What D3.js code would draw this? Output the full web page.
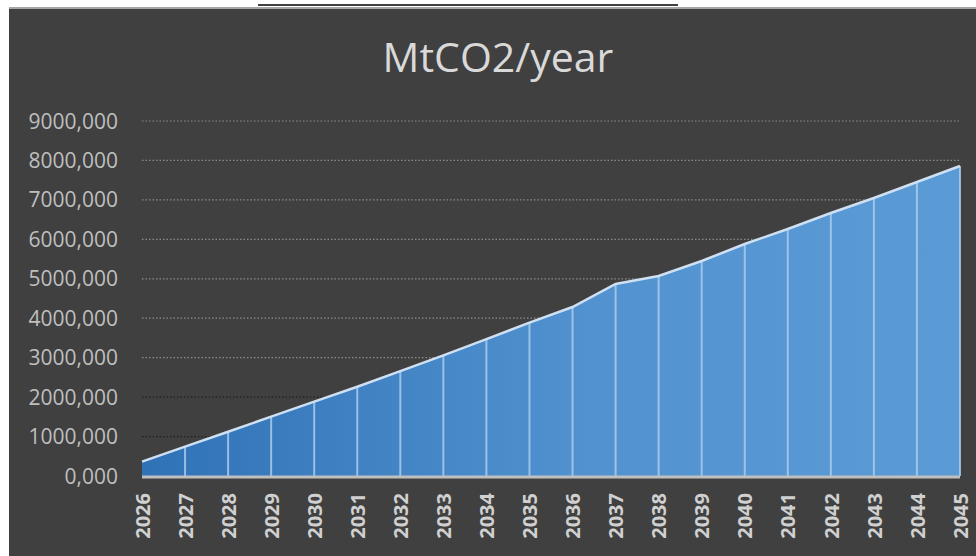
<!DOCTYPE html>
<html>
<head>
<meta charset="utf-8">
<script src="https://cdn.jsdelivr.net/npm/d3@7/dist/d3.min.js"></script>
<style>
  html, body { margin:0; padding:0; background:#fff; }
  #chart { width:976px; height:556px; }
</style>
</head>
<body>
<div id="chart"></div>
<script>
// data
const years = [2026,2027,2028,2029,2030,2031,2032,2033,2034,2035,2036,2037,2038,2039,2040,2041,2042,2043,2044,2045];
const emissions = [363,743,1123,1504,1884,2264,2660,3060,3470,3890,4285,4868,5071,5451,5882,6263,6668,7049,7454,7860];
const yTicks = [0,1000,2000,3000,4000,5000,6000,7000,8000,9000];
const title = 'MtCO2/year';

(function(){
  const width = 976, height = 556;
  const svg = d3.select('#chart').append('svg')
    .attr('width', width).attr('height', height)
    .style('display','block');

  // page strip above the panel
  svg.append('rect').attr('x',0).attr('y',0).attr('width',width).attr('height',height).attr('fill','#fff');
  svg.append('line').attr('x1',258).attr('x2',678).attr('y1',5).attr('y2',5)
    .attr('stroke','#000').attr('stroke-width',1.5);
  svg.append('rect').attr('x',9).attr('y',7).attr('width',width-9).attr('height',height-7).attr('fill','#a6a6a6');
  svg.append('rect').attr('x',9).attr('y',9).attr('width',width-9).attr('height',height-9).attr('fill','#404040');

  svg.append('text')
    .attr('x',498).attr('y',72)
    .attr('text-anchor','middle')
    .attr('fill','#d9d9d9')
    .style('font-family','"Open Sans", sans-serif')
    .style('font-size','41px')
    .text(title);

  const x = d3.scalePoint().domain(years).range([142,960]);
  const y = d3.scaleLinear().domain([0,9000]).range([476,121]);

  // gridlines
  svg.append('g').selectAll('line.grid')
    .data(yTicks.filter(d=>d>0))
    .join('line')
    .attr('class','grid')
    .attr('x1',142).attr('x2',960)
    .attr('y1',d=>y(d)).attr('y2',d=>y(d))
    .attr('stroke', d=> d<=2000 ? '#1f1f1f' : '#8a8a8a')
    .attr('stroke-width',1.2)
    .attr('stroke-dasharray','1.5,2');

  // y labels
  svg.append('g').selectAll('text.ylab')
    .data(yTicks)
    .join('text')
    .attr('class','ylab')
    .attr('x',118).attr('y',d=>y(d))
    .attr('dy','0.36em')
    .attr('text-anchor','end')
    .attr('fill','#bfbfbf')
    .style('font-family','"Open Sans", sans-serif')
    .style('font-size','21px')
    .text(d=>d3.format('d')(d)+',000');

  // gradient fill
  const grad = svg.append('defs').append('linearGradient')
    .attr('id','areaGrad').attr('x1','0%').attr('x2','100%').attr('y1','0%').attr('y2','0%');
  grad.append('stop').attr('offset','0%').attr('stop-color','#2f72b6');
  grad.append('stop').attr('offset','55%').attr('stop-color','#5292d0');
  grad.append('stop').attr('offset','100%').attr('stop-color','#5b9bd5');

  const pts = years.map((yr,i)=>({year:yr, value:emissions[i]}));
  const area = d3.area().x(d=>x(d.year)).y0(y(0)).y1(d=>y(d.value));
  svg.append('path').datum(pts).attr('d',area).attr('fill','url(#areaGrad)');

  // drop lines
  svg.append('g').selectAll('line.drop')
    .data(pts)
    .join('line')
    .attr('class','drop')
    .attr('x1',d=>x(d.year)).attr('x2',d=>x(d.year))
    .attr('y1',d=>y(d.value)).attr('y2',y(0))
    .attr('stroke','#a9cbec')
    .attr('stroke-opacity',d=> d.year===2026 ? 0 : 0.85)
    .attr('stroke-width',2);

  const line = d3.line().x(d=>x(d.year)).y(d=>y(d.value));
  svg.append('path').datum(pts).attr('d',line)
    .attr('fill','none').attr('stroke','#cfe0f2').attr('stroke-width',2.5);

  // x axis
  const xAxis = svg.append('g').attr('transform',`translate(0,${y(0)})`)
    .call(d3.axisBottom(x).tickSize(0).tickPadding(0));
  xAxis.select('.domain').attr('d','M142,1H960').attr('stroke','#bfbfbf').attr('stroke-width',3);
  xAxis.selectAll('text')
    .attr('transform','rotate(-90)')
    .attr('x',-17).attr('y',0).attr('dy','0.36em')
    .attr('text-anchor','end')
    .attr('fill','#d0d0d0')
    .style('font-family','"Open Sans", sans-serif')
    .style('font-weight','700')
    .style('font-size','20px');
})();
</script>
</body>
</html>
